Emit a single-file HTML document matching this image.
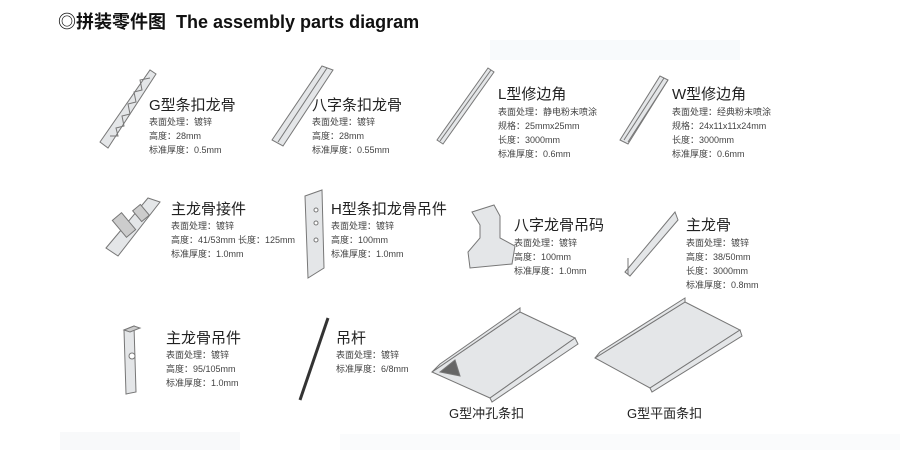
<!DOCTYPE html>
<html><head><meta charset="utf-8"><style>
body{margin:0;width:900px;height:450px;background:#fff;position:relative;overflow:hidden;font-family:"Liberation Sans","Noto Sans CJK SC",sans-serif;color:#222}
.a{position:absolute;white-space:nowrap}
.h{font-size:18px;font-weight:bold;left:58px;top:8px;color:#111}
.t{font-size:15px;color:#222;line-height:18px}
.d{font-size:9px;color:#444;line-height:14px}
svg{position:absolute;left:0;top:0}
</style></head><body>
<div style="position:absolute;left:490px;top:40px;width:250px;height:20px;background:#f8fafc"></div>
<div style="position:absolute;left:60px;top:432px;width:180px;height:18px;background:#f8f9fa"></div>
<div style="position:absolute;left:340px;top:434px;width:560px;height:16px;background:#fafbfc"></div>
<div class="a h">◎拼装零件图&nbsp; The assembly parts diagram</div>
<svg width="900" height="450" fill="#e4e6e8" stroke="#777" stroke-width="1">
<polygon points="100,142 150,70 156,74 108,148"/>
<polyline points="110,136 118,136 116,128 124,126 122,116 130,114 128,104 136,102 134,92 142,90 140,80 150,78" fill="none"/>
<polygon points="272,140 322,66 333,70 283,146"/>
<line x1="278" y1="142" x2="327" y2="68"/>
<polygon points="437,140 488,68 494,72 443,144"/>
<line x1="440" y1="141" x2="491" y2="70"/>
<polygon points="620,140 660,76 668,80 628,144"/>
<line x1="624" y1="140" x2="664" y2="78"/><line x1="628" y1="142" x2="668" y2="80"/>
<polygon points="106,248 148,198 160,202 118,256"/>
<rect x="118" y="214" width="12" height="22" transform="rotate(-40 124 225)" fill="#ccc"/>
<rect x="136" y="206" width="10" height="14" transform="rotate(-40 141 213)" fill="#ccc"/>
<polygon points="305,196 322,190 324,268 308,278"/>
<circle cx="316" cy="210" r="2" fill="#fff"/><circle cx="316" cy="223" r="2" fill="#fff"/><circle cx="316" cy="240" r="2" fill="#fff"/>
<path d="M472,212 L494,205 L500,216 L500,238 L515,246 L512,264 L470,268 L468,252 L480,238 L480,225 Z"/>
<polygon points="625,272 675,212 678,220 630,276"/>
<line x1="628" y1="258" x2="628" y2="274"/>
<polygon points="124,330 134,326 136,392 126,394"/>
<polygon points="124,330 134,326 140,328 130,332" fill="#ccc"/>
<circle cx="132" cy="356" r="3" fill="#fff"/>
<line x1="328" y1="318" x2="300" y2="400" stroke="#333" stroke-width="3"/>
<polygon points="432,372 520,312 575,338 490,398"/>
<polygon points="432,372 440,364 520,308 520,312"/>
<polygon points="490,398 575,338 578,344 492,402"/>
<polygon points="440,372 455,360 460,376" fill="#666"/>
<polygon points="595,358 685,302 740,330 650,388"/>
<polygon points="595,358 600,352 685,298 685,302"/>
<polygon points="650,388 740,330 742,336 652,392"/>
</svg>
<div class="a t" style="left:149px;top:97px">G型条扣龙骨</div>
<div class="a d" style="left:149px;top:115px">表面处理：镀锌<br>高度：28mm<br>标准厚度：0.5mm</div>
<div class="a t" style="left:312px;top:97px">八字条扣龙骨</div>
<div class="a d" style="left:312px;top:115px">表面处理：镀锌<br>高度：28mm<br>标准厚度：0.55mm</div>
<div class="a t" style="left:498px;top:86px">L型修边角</div>
<div class="a d" style="left:498px;top:105px">表面处理：静电粉末喷涂<br>规格：25mmx25mm<br>长度：3000mm<br>标准厚度：0.6mm</div>
<div class="a t" style="left:672px;top:86px">W型修边角</div>
<div class="a d" style="left:672px;top:105px">表面处理：经典粉末喷涂<br>规格：24x11x11x24mm<br>长度：3000mm<br>标准厚度：0.6mm</div>
<div class="a t" style="left:171px;top:201px">主龙骨接件</div>
<div class="a d" style="left:171px;top:219px">表面处理：镀锌<br>高度：41/53mm 长度：125mm<br>标准厚度：1.0mm</div>
<div class="a t" style="left:331px;top:201px">H型条扣龙骨吊件</div>
<div class="a d" style="left:331px;top:219px">表面处理：镀锌<br>高度：100mm<br>标准厚度：1.0mm</div>
<div class="a t" style="left:514px;top:217px">八字龙骨吊码</div>
<div class="a d" style="left:514px;top:236px">表面处理：镀锌<br>高度：100mm<br>标准厚度：1.0mm</div>
<div class="a t" style="left:686px;top:217px">主龙骨</div>
<div class="a d" style="left:686px;top:236px">表面处理：镀锌<br>高度：38/50mm<br>长度：3000mm<br>标准厚度：0.8mm</div>
<div class="a t" style="left:166px;top:330px">主龙骨吊件</div>
<div class="a d" style="left:166px;top:348px">表面处理：镀锌<br>高度：95/105mm<br>标准厚度：1.0mm</div>
<div class="a t" style="left:336px;top:330px">吊杆</div>
<div class="a d" style="left:336px;top:348px">表面处理：镀锌<br>标准厚度：6/8mm</div>
<div class="a t" style="left:449px;top:405px;font-size:13px">G型冲孔条扣</div>
<div class="a t" style="left:627px;top:405px;font-size:13px">G型平面条扣</div>
</body></html>
